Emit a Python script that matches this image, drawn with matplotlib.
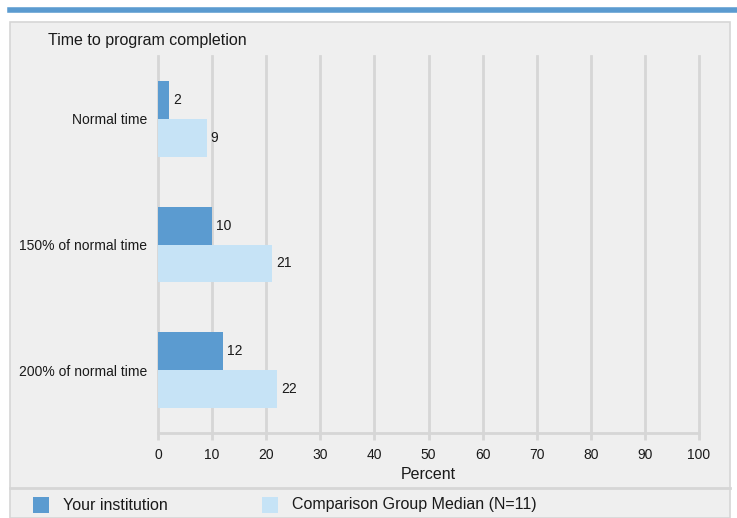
#!/usr/bin/env python3
"""Horizontal grouped bars: time to program completion."""

import matplotlib.pyplot as plt
import numpy as np
from matplotlib.lines import Line2D
from matplotlib.patches import Rectangle

plt.rcParams["font.family"] = ["Liberation Sans", "DejaVu Sans"]

categories = ["Normal time", "150% of normal time", "200% of normal time"]
institution = [2, 10, 12]
comparison = [9, 21, 22]
series_names = ["Your institution", "Comparison Group Median (N=11)"]
x_ticks = list(range(0, 101, 10))

DARK = "#5b9bd0"
LIGHT = "#c6e3f6"
PANEL = "#efefef"
GRID = "#d6d6d6"
TEXT = "#1a1a1a"

W, H = 737, 518
fig = plt.figure(figsize=(W / 100, H / 100), dpi=100)
fig.patch.set_facecolor("white")

# top accent line and panel (kept behind the axes)
fig.add_artist(Line2D([10 / W, 1], [1 - 10 / H] * 2, color=DARK, lw=4))
fig.add_artist(Rectangle((10 / W, 0), 720 / W, 1 - 22 / H, facecolor=PANEL,
                         edgecolor=GRID, lw=1.2, transform=fig.transFigure,
                         zorder=-10))
fig.add_artist(Line2D([10 / W, 730 / W], [1 - 488 / H] * 2, color=GRID, lw=2))

fig.text(48 / W, 1 - 40 / H, "Time to program completion", fontsize=11.5,
         color=TEXT, va="center")

ax = fig.add_axes([158 / W, 1 - 433 / H, 541 / W, 377 / H])
ax.set_facecolor(PANEL)

y = np.arange(len(categories))
h = 0.3
b1 = ax.barh(y - h / 2, institution, height=h, color=DARK, zorder=3)
b2 = ax.barh(y + h / 2, comparison, height=h, color=LIGHT, zorder=3)
for bars in (b1, b2):
    for bar in bars:
        w = bar.get_width()
        ax.annotate(f"{w:g}", (w, bar.get_y() + bar.get_height() / 2),
                    xytext=(3, 0), textcoords="offset points", va="center",
                    fontsize=10, color=TEXT)

ax.set_xlim(0, 100)
ax.set_ylim(2.5, -0.5)
ax.set_xticks(x_ticks)
ax.set_yticks(y)
ax.set_yticklabels(categories)
ax.tick_params(axis="x", length=5, width=2, color=GRID, labelsize=10,
               labelcolor=TEXT, pad=6)
ax.tick_params(axis="y", length=0, labelsize=10, labelcolor=TEXT, pad=8)
ax.grid(axis="x", color=GRID, lw=2, zorder=0)
for gl in ax.get_xgridlines():
    gl.set_clip_on(False)
for side in ("top", "right", "left"):
    ax.spines[side].set_visible(False)
ax.spines["bottom"].set_color(GRID)
ax.spines["bottom"].set_linewidth(2)
ax.set_xlabel("Percent", fontsize=11.5, color=TEXT, labelpad=3.5)

# legend row
for x0, name, col in zip([33, 262], series_names, [DARK, LIGHT]):
    fig.add_artist(Rectangle((x0 / W, 1 - 513 / H), 16 / W, 16 / H,
                             facecolor=col, edgecolor="none",
                             transform=fig.transFigure))
    fig.text((x0 + 30) / W, 1 - 505 / H, name, fontsize=11.5, color=TEXT,
             va="center")

fig.savefig("out.png", dpi=100)
